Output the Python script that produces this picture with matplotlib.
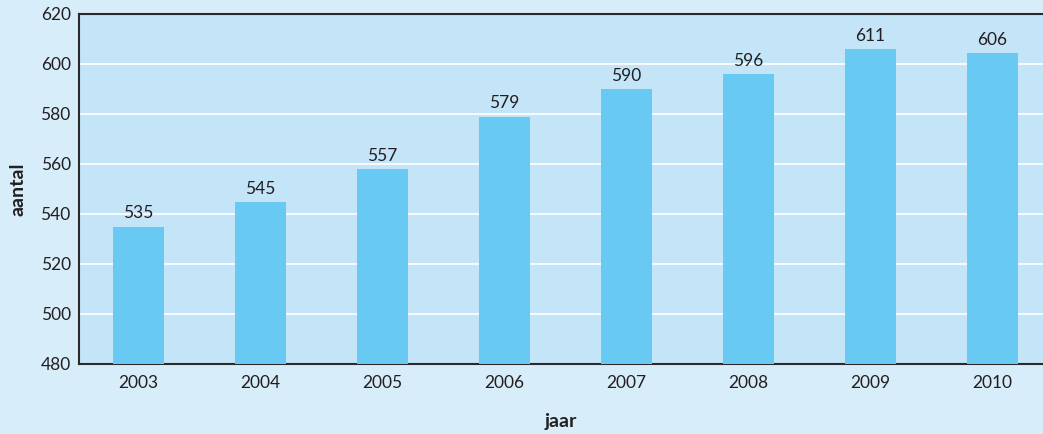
import numpy as np
import matplotlib.pyplot as plt

jaren = ["2003", "2004", "2005", "2006", "2007", "2008", "2009", "2010"]
hoogte = [535, 545, 558, 579, 590, 596, 606, 604.5]   # bar heights as drawn
labels = [535, 545, 557, 579, 590, 596, 611, 606]     # printed values
yticks = [480, 500, 520, 540, 560, 580, 600, 620]

fig_bg = "#d8edfa"
ax_bg = "#c3e5f7"
bar_kleur = "#68c9f2"
tekst = "#231f20"

plt.rcParams['font.family'] = ['Lato', 'DejaVu Sans']

fig = plt.figure(figsize=(10.43, 4.34), dpi=100, facecolor=fig_bg)
ax = fig.add_axes([79 / 1043, 1 - 364 / 434, (1043 - 79) / 1043, 350 / 434])
ax.set_facecolor(ax_bg)

x = np.arange(len(jaren))
ax.bar(x, np.array(hoogte) - 480, bottom=480, width=0.418, color=bar_kleur, zorder=3)
for xi, h, l in zip(x, hoogte, labels):
    ax.text(xi, h + 2, str(l), ha="center", va="bottom", fontsize=12.5, color=tekst, zorder=4)

ax.set_ylim(480, 620)
ax.set_xlim(-0.488, 7.414)
ax.set_yticks(yticks)
ax.set_xticks(x)
ax.set_xticklabels(jaren)
ax.grid(axis="y", color="white", linewidth=1.2, zorder=1)
ax.tick_params(axis="both", length=0, labelsize=12.5, colors=tekst)
ax.tick_params(axis="x", pad=8)
ax.tick_params(axis="y", pad=6)

for s in ["left", "bottom", "top"]:
    ax.spines[s].set_color("#2a2a2a")
    ax.spines[s].set_linewidth(1.5)
ax.spines["right"].set_visible(False)

ax.set_ylabel("aantal", fontsize=14, fontweight="bold", color=tekst, va="center")
ax.set_xlabel("jaar", fontsize=14, fontweight="bold", color=tekst, va="center")
ax.yaxis.set_label_coords(-0.063, 0.5)
ax.xaxis.set_label_coords(0.5, -0.163)

fig.savefig("out.png", dpi=100, facecolor=fig_bg)
